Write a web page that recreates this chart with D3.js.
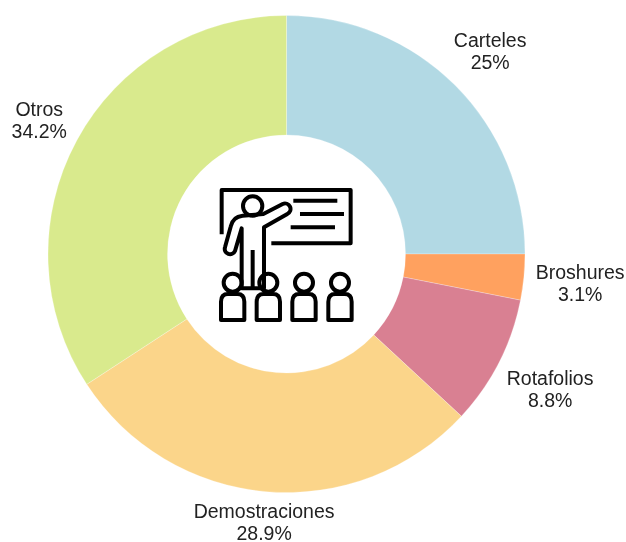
<!DOCTYPE html>
<html><head><meta charset="utf-8">
<script src="https://cdn.jsdelivr.net/npm/d3@7"></script>
<style>html,body{margin:0;padding:0;background:#fff}svg{display:block;filter:blur(0.35px)}</style>
</head><body><svg id="c" width="626" height="542"></svg>
<script>
const categories = ["Carteles","Broshures","Rotafolios","Demostraciones","Otros"];
const values = [25,3.1,8.8,28.9,34.2];
const colors = ["#B2D9E4","#FFA15F","#D98092","#FBD58A","#D9EA8D"];

const cx=286.5, cy=254, R=238.5, r=119, labelR=288, lineH=22;
const nudge=[[0,1],[7,1],[7,4],[2,-19],[6,3]];
const svg=d3.select("#c");
const g=svg.append("g").attr("transform",`translate(${cx},${cy})`);
const pie=d3.pie().sort(null).value(d=>d)(values);
const arc=d3.arc().innerRadius(r).outerRadius(R);
const labelArc=d3.arc().innerRadius(labelR).outerRadius(labelR);
g.selectAll("path").data(pie).join("path")
  .attr("d",arc).attr("fill",(d,i)=>colors[i]).attr("stroke","#fff").attr("stroke-width",0.25);
const fmt=v=>v+"%";
const lab=g.selectAll("text.l").data(pie).join("text").attr("class","l")
  .attr("text-anchor","middle")
  .attr("font-family","Liberation Sans, Arial, sans-serif")
  .attr("font-size",19.5).attr("fill","#222")
  .attr("transform",(d,i)=>{const c=labelArc.centroid(d);return `translate(${c[0]+nudge[i][0]},${c[1]+nudge[i][1]})`;});
lab.append("tspan").attr("x",0).attr("y",-4).text((d,i)=>categories[i]);
lab.append("tspan").attr("x",0).attr("y",-4+lineH).text(d=>fmt(d.value));

// presenter icon, drawn in its own local coordinates
const ic=svg.append("g").attr("transform","translate(200,170) scale(0.3333)")
  .attr("fill","none").attr("stroke","#000").attr("stroke-width",12)
  .attr("stroke-linejoin","round");
ic.append("path").attr("d","M65,193V60H452V220H214");
ic.append("path").attr("d","M280,92H412M300,132H432M272,172H405");
ic.append("circle").attr("cx",158).attr("cy",108).attr("r",29);
ic.append("path").attr("d","M128,137Q98,140 92,170L75,232A16,16 0 0 0 105,243L125,175V355H192V172L262,132A15,15 0 0 0 248,102L190,132Z");
ic.append("path").attr("d","M158,240V355");
[98,205,312,420].forEach(x=>{
  ic.append("circle").attr("cx",x).attr("cy",338).attr("r",27);
  ic.append("path").attr("d",`M${x-35},450V395Q${x-35},372 ${x-14},372H${x+14}Q${x+35},372 ${x+35},395V450Z`);
});
</script></body></html>
